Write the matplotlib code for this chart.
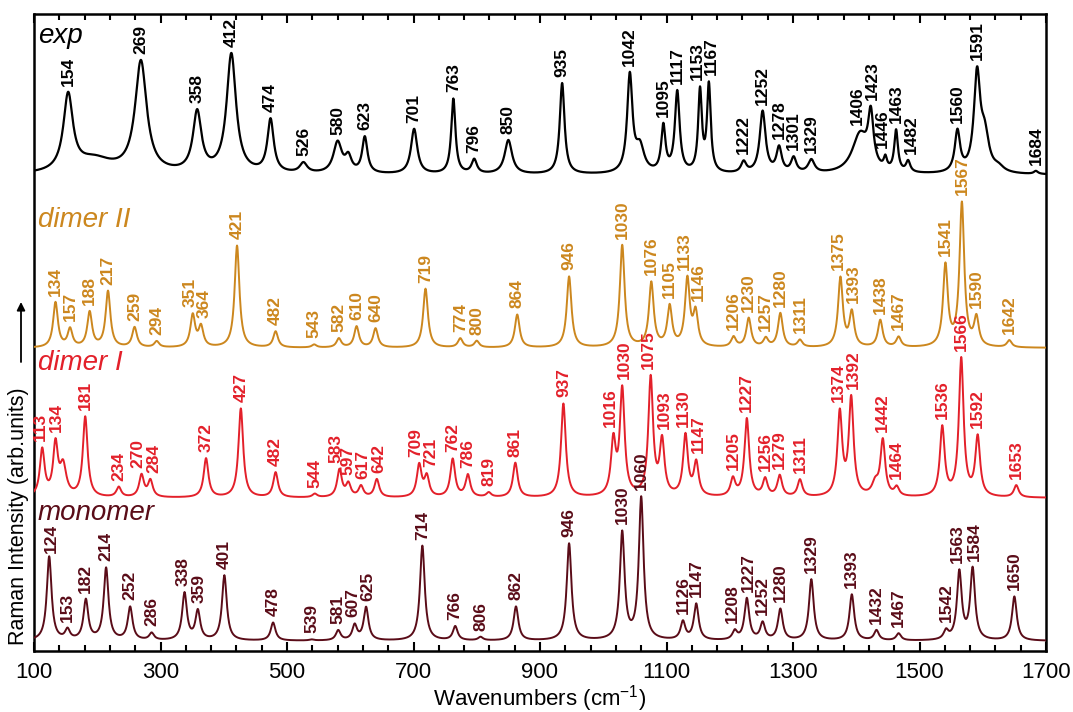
import numpy as np
import matplotlib
matplotlib.use('Agg')
import matplotlib.pyplot as plt
from matplotlib.ticker import FixedLocator

plt.rcParams['font.family'] = ['Liberation Sans', 'DejaVu Sans']
plt.rcParams['mathtext.fontset'] = 'custom'
plt.rcParams['mathtext.rm'] = 'Liberation Sans'
plt.rcParams['mathtext.it'] = 'Liberation Sans:italic'

# ── Data (peak positions are the labelled wavenumbers, heights) ──
exp_pos = [154, 269, 358, 412, 474, 526, 580, 623, 701, 763, 796, 850, 935, 1042,
           1095, 1117, 1153, 1167, 1222, 1252, 1278, 1301, 1329, 1406, 1423, 1446,
           1463, 1482, 1560, 1591, 1684]
exp_height = [76, 111, 60, 119, 53, 10, 31, 36, 45, 75, 14, 34, 91, 97,
              46, 81, 81, 87, 11, 62, 25, 15, 13, 39, 51, 11,
              41, 11, 41, 96, 3]
exp_width = [9, 11, 8, 9, 6, 7, 8, 5, 6, 4, 5, 7, 4.5, 5,
             4, 4.5, 3.5, 3.5, 5, 5.5, 5, 5, 6, 15, 5, 3,
             3.5, 4, 5, 6, 4]
# unlabelled shoulders of the experimental trace
exp_sh_pos = [195, 597, 1058, 1603, 1625]
exp_sh_height = [14, 15, 25, 35, 5]
exp_sh_width = [35, 6, 8, 8, 10]

d2_pos = [134, 157, 188, 217, 259, 294, 351, 364, 421, 482, 543, 582, 610, 640,
          719, 774, 800, 864, 946, 1030, 1076, 1105, 1133, 1146, 1206, 1230,
          1257, 1280, 1311, 1375, 1393, 1438, 1467, 1541, 1567, 1590, 1642]
d2_height = [45, 18, 35, 56, 20, 6, 32, 20, 102, 16, 3, 9, 21, 19,
             59, 9, 6.5, 33, 71, 102, 64, 40, 67, 33, 10, 29,
             8.6, 34, 7, 69, 34, 27, 10, 81, 143, 28, 7]

d1_pos = [113, 134, 181, 234, 270, 284, 372, 427, 482, 544, 583, 597, 617, 642,
          709, 721, 762, 786, 819, 861, 937, 1016, 1030, 1075, 1093, 1130, 1147,
          1205, 1227, 1256, 1279, 1311, 1374, 1392, 1442, 1464, 1536, 1566, 1592,
          1653]
d1_height = [47, 51, 80, 10, 22, 16.5, 39, 89, 25, 3.5, 27.5, 13, 11, 18,
             32, 20, 38, 22, 4.5, 34.5, 93.6, 53.7, 105.7, 117.8, 54, 60.7, 33,
             17.4, 78, 17.4, 21, 17, 83, 97, 55.5, 8.7, 69, 137.5, 59,
             12]
d1_sh_pos = [146, 1430]
d1_sh_height = [30, 12]

mono_pos = [124, 153, 182, 214, 252, 286, 338, 359, 401, 478, 539, 581, 607, 625,
            714, 766, 806, 862, 946, 1030, 1060, 1126, 1147, 1208, 1227, 1252,
            1280, 1329, 1393, 1432, 1467, 1542, 1563, 1584, 1650]
mono_height = [84, 10, 40, 72, 33, 7, 47, 29, 65, 18, 1, 10, 15, 33,
               95, 14, 3.4, 34, 97, 107, 142, 18, 36, 8.7, 41.5, 17,
               31, 61, 46, 10, 7, 8.7, 68, 71, 44]

calc_hwhm = 4.5

# ── Layout / style ──
baseline = {'exp': 476, 'dimer II': 303, 'dimer I': 153, 'monomer': 10}
colors = {'exp': 'black', 'dimer II': '#CC871E', 'dimer I': '#E3202A', 'monomer': '#5A0C18'}
name_y = {'exp': 608, 'dimer II': 424, 'dimer I': 281, 'monomer': 131}
# small sideways nudges (cm-1) for labels of closely spaced peaks
label_dx = {
    ('exp', 1153): -4, ('exp', 1167): 4, ('exp', 1406): -4, ('exp', 1423): 3,
    ('exp', 1446): -5, ('exp', 1482): 5,
    ('dimer II', 351): -4, ('dimer II', 364): 5, ('dimer II', 1133): -4,
    ('dimer II', 1146): 5, ('dimer II', 1375): -3, ('dimer II', 1393): 3,
    ('dimer I', 113): -3, ('dimer I', 134): 2, ('dimer I', 270): -5, ('dimer I', 284): 5,
    ('dimer I', 583): -6, ('dimer I', 597): 0, ('dimer I', 617): 3, ('dimer I', 642): 3,
    ('dimer I', 709): -5, ('dimer I', 721): 6, ('dimer I', 1016): -5, ('dimer I', 1030): 4,
    ('dimer I', 1075): -3, ('dimer I', 1093): 4, ('dimer I', 1130): -4, ('dimer I', 1147): 4,
    ('dimer I', 1374): -3, ('dimer I', 1392): 3,
    ('monomer', 124): 3,
    ('monomer', 338): -2, ('monomer', 359): 2, ('monomer', 607): -3, ('monomer', 625): 3,
    ('monomer', 1208): -4, ('monomer', 1227): 3, ('monomer', 1563): -3, ('monomer', 1584): 3,
}
label_gap = {('monomer', 124): 3}


def lorentz(x, pos, height, width):
    x = np.asarray(x, dtype=float)[..., None]
    pos = np.asarray(pos, dtype=float)
    height = np.asarray(height, dtype=float)
    width = np.broadcast_to(np.asarray(width, dtype=float), pos.shape)
    return (height / (1 + ((x - pos) / width) ** 2)).sum(axis=-1)


wn = np.linspace(100, 1700, 3201)

traces = {
    'exp': (exp_pos,
            lambda x: lorentz(x, exp_pos, exp_height, exp_width)
            + lorentz(x, exp_sh_pos, exp_sh_height, exp_sh_width)),
    'dimer II': (d2_pos, lambda x: lorentz(x, d2_pos, d2_height, calc_hwhm)),
    'dimer I': (d1_pos,
                lambda x: lorentz(x, d1_pos, d1_height, calc_hwhm)
                + lorentz(x, d1_sh_pos, d1_sh_height, 6)),
    'monomer': (mono_pos, lambda x: lorentz(x, mono_pos, mono_height, calc_hwhm)),
}

fig = plt.figure(figsize=(10.73, 7.12), dpi=100)
ax = fig.add_axes([34 / 1073, 1 - 651 / 712, (1046 - 34) / 1073, (651 - 14) / 712])

for name, (pos, func) in traces.items():
    c = colors[name]
    base = baseline[name]
    ax.plot(wn, base + func(wn), color=c, lw=1.6 if name == 'exp' else 1.4, zorder=3)
    peak_y = base + func(np.array(pos, dtype=float))
    for p, y in zip(pos, peak_y):
        ax.text(p + label_dx.get((name, p), 0), y + label_gap.get((name, p), 6), str(p),
                rotation=90, ha='center', va='bottom', fontsize=12.5,
                fontweight='bold', color=c, zorder=4)
    ax.text(106, name_y[name], name, fontsize=20, style='italic', color=c,
            ha='left', va='baseline')

ax.set_xlim(100, 1700)
ax.set_ylim(0, 637)
ax.xaxis.set_major_locator(FixedLocator(range(100, 1701, 200)))
ax.xaxis.set_minor_locator(FixedLocator(range(100, 1701, 40)))
ax.tick_params(axis='x', which='both', direction='in', top=True, bottom=True,
               labelsize=16, width=1.5, pad=8)
ax.tick_params(axis='x', which='major', length=6.5)
ax.tick_params(axis='x', which='minor', length=4)
ax.set_yticks([])
for s in ax.spines.values():
    s.set_linewidth(1.8)

ax.set_xlabel('Wavenumbers (cm$^{-1}$)', fontsize=16, labelpad=0)

fig.text(19 / 1073, 1 - 516 / 712, 'Raman Intensity (arb.units)', rotation=90,
         fontsize=15.5, ha='center', va='center')
ax.annotate('', xy=(21, 712 - 302), xytext=(21, 712 - 362), xycoords='figure pixels',
            textcoords='figure pixels',
            arrowprops=dict(arrowstyle='-|>', color='black', lw=1.3,
                            mutation_scale=12, shrinkA=0, shrinkB=0))

fig.savefig('out.png', dpi=100, facecolor='white')
